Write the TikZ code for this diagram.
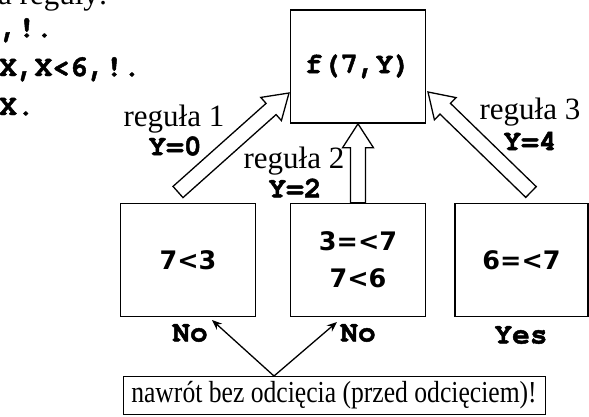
\documentclass[tikz,border=0pt]{standalone}
\usepackage{fontspec}
\setmainfont{Liberation Serif}
\newfontfamily\courfam{texgyrecursor}[Extension=.otf, UprightFont=*-regular, BoldFont=*-bold, BoldFeatures={FakeBold=1.6}]
\newfontfamily\dvsfam{DejaVu Sans}
\newfontfamily\notefam[FakeStretch=0.84]{Liberation Serif}
\usetikzlibrary{calc,arrows.meta}
\newcommand\hollowarrow[3]{%
  \coordinate (#1h) at ($(#3)!24pt!(#2)$);
  \draw[bigarrow] ($(#2)!7.5pt!90:(#3)$) -- ($(#1h)!7.5pt!90:(#3)$) -- ($(#1h)!15.5pt!90:(#3)$) -- (#3)
    -- ($(#1h)!15.5pt!-90:(#3)$) -- ($(#1h)!7.5pt!-90:(#3)$) -- ($(#2)!7.5pt!-90:(#3)$) -- cycle;}
\begin{document}
\begin{tikzpicture}[x=1pt,y=-1pt,
  box/.style={draw, line width=1.6pt, minimum width=135pt, minimum height=113pt, inner sep=0pt},
  boxtxt/.style={font=\dvsfam\bfseries\fontsize{25.5}{37}\selectfont, align=center},
  code/.style={font=\courfam\bfseries\fontsize{29.5}{39}\selectfont, inner sep=0pt},
  serif/.style={font=\fontsize{31}{33}\selectfont, inner sep=0pt},
  bigarrow/.style={draw, line width=1.3pt, fill=white, line join=miter},
  thinarrow/.style={draw, line width=1.3pt, -{Stealth[length=10pt,width=8pt]}}]
\useasboundingbox (0,0) rectangle (589,416);
\clip (0,0) rectangle (589,416);
% code fragment
\node[serif, anchor=base west] (c0) at (-2,4) {a reguły:};
\node[code, anchor=base west] (c1) at (0,37) {,!.};
\node[code, anchor=base west] (c2) at (-1,76) {X,X<6,!.};
\node[code, anchor=base west] (c3) at (-1,115) {X.};
% boxes
\node[box, code] (f) at (358,66.5) {f(7,Y)};
\node[box, boxtxt] (b1) at (188,260) {7<3};
\node[box, boxtxt] (b2) at (358,260) {3=<7\\7<6};
\node[box, boxtxt, minimum width=133pt] (b3) at (521.5,260) {6=<7};
% labels
\node[serif] (r1) at (174,119) {reguła 1};
\node[code] (y1) at (175,146) {Y=0};
\node[serif] (r2) at (294,161) {reguła 2};
\node[code] (y2) at (295,188) {Y=2};
\node[serif] (r3) at (530,112) {reguła 3};
\node[code] (y3) at (530,141) {Y=4};
\node[code] (n1) at (190,333) {No};
\node[code] (n2) at (358,333) {No};
\node[code] (n3) at (521,335) {Yes};
% hollow arrows
\coordinate (t1) at (178,192);
\coordinate (p1) at (289,93);
\coordinate (t3) at (531,192);
\coordinate (p3) at (428,92);
\hollowarrow{ha1}{t1}{p1}
\hollowarrow{ha2}{b2.north}{f.south}
\hollowarrow{ha3}{t3}{p3}
% note
\node[draw, line width=0.9pt, minimum width=422pt, minimum height=38pt, font=\notefam\fontsize{30.5}{32}\selectfont, inner sep=0pt] (note) at (334,395) {nawrót bez odcięcia (przed odcięciem)!};
\coordinate (src) at (274,376);
\coordinate (e1) at (212,320);
\coordinate (e2) at (337,322);
\draw[thinarrow] (src) -- (e1);
\draw[thinarrow] (src) -- (e2);
\end{tikzpicture}
\end{document}
